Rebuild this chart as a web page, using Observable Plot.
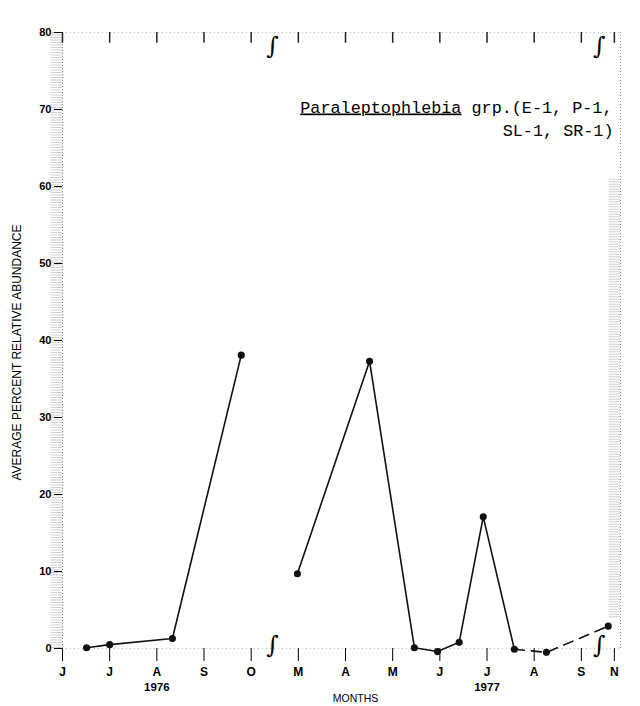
<!DOCTYPE html>
<html>
<head>
<meta charset="utf-8">
<script src="https://cdn.jsdelivr.net/npm/d3@7"></script>
<script src="https://cdn.jsdelivr.net/npm/@observablehq/plot@0.6"></script>
<style>
  html, body { margin: 0; padding: 0; background: #fff; }
  #chart svg { display: block; }
</style>
</head>
<body>
<div id="chart"></div>
<script>
// Month tick positions (axis index) and their labels; gaps (Nov–Feb, Oct) are axis breaks
const months   = ["J", "J", "A", "S", "O", "M", "A", "M", "J", "J", "A", "S", "N"];
const monthPos = [0, 1, 2, 3, 4, 5, 6, 7, 8, 9, 10, 11, 11.7];
const years    = [{label: "1976", pos: 2}, {label: "1977", pos: 9}];
const breaks   = [4.45, 11.38];
const yTicks   = [0, 10, 20, 30, 40, 50, 60, 70, 80];

// Sampling dates (axis index) and average percent relative abundance
const sampleX  = [0.51, 1.0, 2.33, 3.79, 4.98, 6.51, 7.46, 7.95, 8.41, 8.92, 9.58, 10.26, 11.57];
const sampleY  = [0.1, 0.5, 1.3, 38.1, 9.7, 37.3, 0.1, -0.4, 0.8, 17.1, -0.1, -0.5, 2.9];
const segment  = [1, 1, 1, 1, 2, 2, 2, 2, 2, 2, 2, 3, 3];

const data = sampleX.map((x, i) => ({x, y: sampleY[i], seg: segment[i]}));
const solid = data.filter(d => d.seg !== 3);
const dashed = data.filter((d, i) => d.seg === 3 || i === 10);

const xMax = 11.83;
const font = "Liberation Sans, Arial, sans-serif";
const mono = "Liberation Mono, Courier New, monospace";

const chart = Plot.plot({
  width: 640,
  height: 706,
  marginLeft: 62,
  marginRight: 20,
  marginTop: 32,
  marginBottom: 58,
  style: {fontFamily: font, background: "#fff", color: "#000"},
  x: {domain: [0, xMax], axis: null},
  y: {domain: [0, 80], axis: null},
  marks: [
    // stippled left and right axis bands
    Plot.ruleX([0], {y1: 0, y2: 80, dx: -6, stroke: "#cfcfcf", strokeWidth: 12, strokeDasharray: "1,1.5"}),
    Plot.ruleX([xMax], {y1: 4, y2: 61, dx: -6, stroke: "#cfcfcf", strokeWidth: 11, strokeDasharray: "1,1.5"}),
    Plot.ruleX([0], {y1: 0, y2: 80, stroke: "#888", strokeDasharray: "1,2"}),
    Plot.ruleX([xMax], {y1: 0, y2: 80, stroke: "#999", strokeDasharray: "1,2"}),
    Plot.ruleY([80], {stroke: "#bbb", strokeDasharray: "1,3"}),
    Plot.ruleY([0], {stroke: "#bbb", strokeDasharray: "1,3"}),
    // top ticks mirroring month positions
    Plot.ruleX(monthPos, {y1: 80, y2: 78.6, stroke: "#222", strokeWidth: 1.5}),
    // axis breaks
    Plot.text(breaks, {x: d => d, frameAnchor: "top", text: () => "\u222B", fontSize: 24, fontFamily: "DejaVu Serif", dy: 4}),
    Plot.text(breaks, {x: d => d, frameAnchor: "bottom", text: () => "\u222B", fontSize: 24, fontFamily: "DejaVu Serif", dy: 4}),
    // axes
    Plot.axisY({ticks: yTicks, tickSize: 8, tickPadding: 3, fontSize: 11, fontWeight: "bold", label: null}),
    Plot.axisX({ticks: monthPos, tickSize: 13, tickPadding: 6, fontSize: 12, fontWeight: "bold",
      tickFormat: d => months[monthPos.indexOf(d)], label: null}),
    Plot.text(years, {x: "pos", text: "label", frameAnchor: "bottom", dy: 42, fontSize: 11.5, fontWeight: "bold"}),
    Plot.text(["MONTHS"], {frameAnchor: "bottom", dy: 53, dx: 14, fontSize: 10.5}),
    Plot.text(["AVERAGE PERCENT RELATIVE ABUNDANCE"], {frameAnchor: "left", textAnchor: "middle", rotate: -90,
      dx: -45, dy: 12, fontSize: 12}),
    // data
    Plot.line(solid, {x: "x", y: "y", z: "seg", stroke: "#111", strokeWidth: 1.6}),
    Plot.line(dashed, {x: "x", y: "y", stroke: "#111", strokeWidth: 1.6, strokeDasharray: "10,7"}),
    Plot.dot(data, {x: "x", y: "y", r: 2.8, fill: "#111", stroke: "#111"}),
    // title
    Plot.text(["Paraleptophlebia grp.(E-1, P-1,"], {frameAnchor: "top-right", dx: -8, dy: 80, lineAnchor: "bottom",
      textAnchor: "end", fontFamily: mono, fontSize: 16.8}),
    Plot.text(["SL-1, SR-1)"], {frameAnchor: "top-right", dx: -7, dy: 103, lineAnchor: "bottom",
      textAnchor: "end", fontFamily: mono, fontSize: 16.8})
  ]
});

// underline the genus name
d3.select(chart).selectAll("text").each(function() {
  if (this.textContent === "Paraleptophlebia grp.(E-1, P-1,") {
    const t = d3.select(this);
    t.text(null);
    t.append("tspan").style("text-decoration", "underline").text("Paraleptophlebia");
    t.append("tspan").text(" grp.(E-1, P-1,");
  }
});

document.getElementById("chart").appendChild(chart);
</script>
</body>
</html>
